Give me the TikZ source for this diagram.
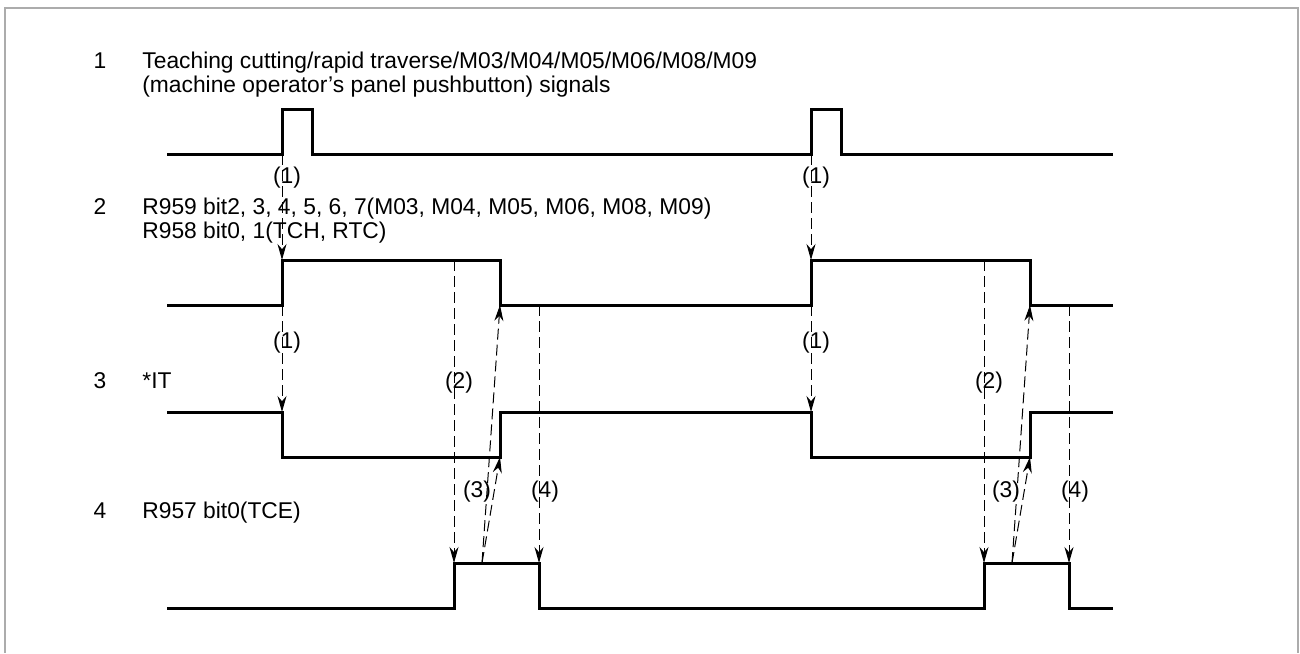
\documentclass[tikz,border=0pt]{standalone}
\usepackage{fontspec}
\setmainfont{Liberation Sans}
\usetikzlibrary{arrows.meta}

\begin{document}
\begin{tikzpicture}[x=0.5pt, y=-0.5pt,
    sig/.style={line width=1.5pt, line join=miter},
    cue/.style={line width=0.5pt, dash pattern=on 5.5pt off 2.5pt, -{Stealth[length=8pt, width=4.5pt]}},
    txt/.style={font=\fontsize{11.4}{13}\selectfont, inner sep=0pt, anchor=base west},
    num/.style={font=\fontsize{11.4}{13}\selectfont, inner sep=0pt, anchor=base},
    tag/.style={font=\fontsize{11.4}{13}\selectfont, inner sep=0.5pt}]
    \useasboundingbox (0,0) rectangle (1300,653);

    % Frame
    \draw[gray!65, line width=1pt] (5,653) |- (1298,8) -- (1298,653);

    % Signal names
    \node[num] (n1) at (100,68) {1};
    \node[txt] (t1a) at (142,68) {Teaching cutting/rapid traverse/M03/M04/M05/M06/M08/M09};
    \node[txt] (t1b) at (142,92) {(machine operator’s panel pushbutton) signals};
    \node[num] (n2) at (100,214) {2};
    \node[txt] (t2a) at (142,214) {R959 bit2, 3, 4, 5, 6, 7(M03, M04, M05, M06, M08, M09)};
    \node[txt] (t2b) at (142,238) {R958 bit0, 1(TCH, RTC)};
    \node[num] (n3) at (100,388) {3};
    \node[txt] (t3) at (142,388) {*IT};
    \node[num] (n4) at (100,518) {4};
    \node[txt] (t4) at (142,518) {R957 bit0(TCE)};

    % Waveforms
    \draw[sig] (167,154) -- (282,154) -- (282,109) -- (312,109) -- (312,154) -- (811,154)
        -- (811,109) -- (841,109) -- (841,154) -- (1113,154);
    \draw[sig] (167,305) -- (282,305) -- (282,260) -- (500,260) -- (500,305) -- (811,305)
        -- (811,260) -- (1030,260) -- (1030,305) -- (1113,305);
    \draw[sig] (167,412) -- (282,412) -- (282,457) -- (500,457) -- (500,412) -- (811,412)
        -- (811,457) -- (1030,457) -- (1030,412) -- (1113,412);
    \draw[sig] (167,608) -- (454,608) -- (454,563) -- (539,563) -- (539,608) -- (984,608)
        -- (984,563) -- (1069,563) -- (1069,608) -- (1113,608);

    % Timing points, first cycle
    \coordinate (a1) at (282,154);
    \coordinate (a2) at (282,260);
    \coordinate (a3) at (282,305);
    \coordinate (a4) at (282,412);
    \coordinate (a5) at (454,260);
    \coordinate (a6) at (454,563);
    \coordinate (a7) at (482,563);
    \coordinate (a8) at (500,457);
    \coordinate (a9) at (500,305);
    \coordinate (a10) at (539,305);
    \coordinate (a11) at (539,563);

    % Timing points, second cycle
    \coordinate (b1) at (811,154);
    \coordinate (b2) at (811,260);
    \coordinate (b3) at (811,305);
    \coordinate (b4) at (811,412);
    \coordinate (b5) at (984,260);
    \coordinate (b6) at (984,563);
    \coordinate (b7) at (1012,563);
    \coordinate (b8) at (1030,457);
    \coordinate (b9) at (1030,305);
    \coordinate (b10) at (1069,305);
    \coordinate (b11) at (1069,563);

    % Cause arrows
    \draw[cue] (a1) -- (a2);
    \draw[cue] (a3) -- (a4);
    \draw[cue] (a5) -- (a6);
    \draw[cue] (a7) -- (a8);
    \draw[cue] (a7) -- (a9);
    \draw[cue] (a10) -- (a11);
    \draw[cue] (b1) -- (b2);
    \draw[cue] (b3) -- (b4);
    \draw[cue] (b5) -- (b6);
    \draw[cue] (b7) -- (b8);
    \draw[cue] (b7) -- (b9);
    \draw[cue] (b10) -- (b11);

    % Step numbers
    \node[tag] (l1a) at (287,178) {(1)};
    \node[tag] (l2a) at (287,343) {(1)};
    \node[tag] (l3a) at (459,383) {(2)};
    \node[tag] (l4a) at (477,492) {(3)};
    \node[tag] (l5a) at (545,492) {(4)};
    \node[tag] (l1b) at (816,178) {(1)};
    \node[tag] (l2b) at (816,343) {(1)};
    \node[tag] (l3b) at (989,383) {(2)};
    \node[tag] (l4b) at (1006,492) {(3)};
    \node[tag] (l5b) at (1075,492) {(4)};
\end{tikzpicture}
\end{document}
